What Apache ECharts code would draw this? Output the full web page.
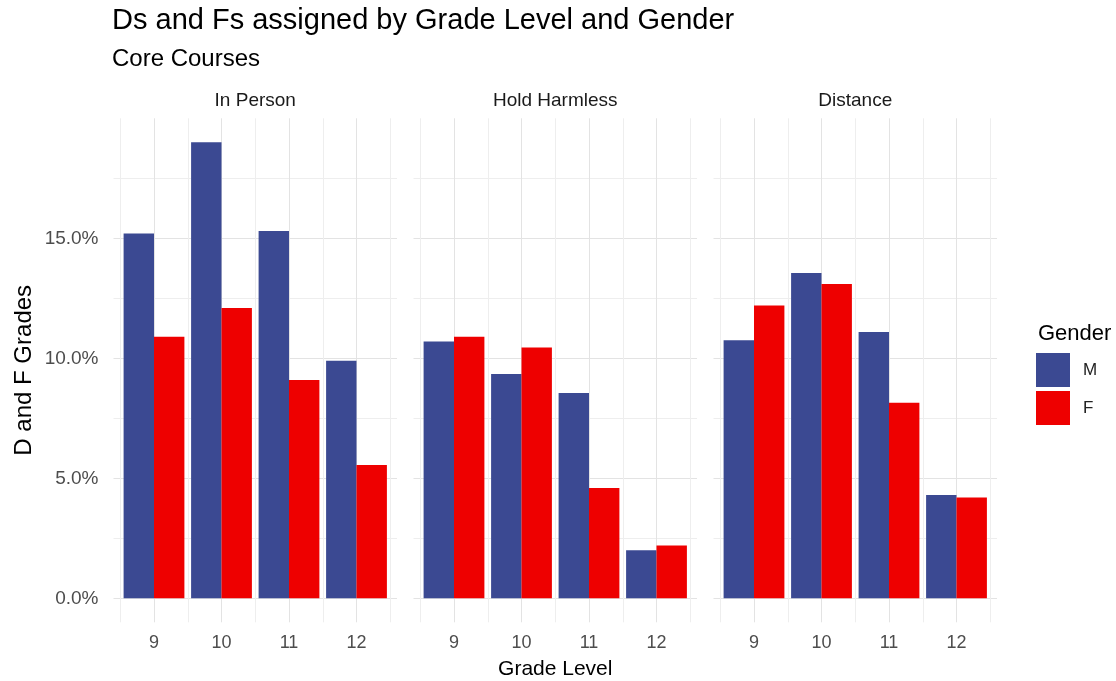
<!DOCTYPE html>
<html>
<head>
<meta charset="utf-8">
<script src="https://cdn.jsdelivr.net/npm/echarts@6/dist/echarts.min.js"></script>
<style>
  html, body { margin: 0; padding: 0; background: #fff; }
  #chart { width: 1116px; height: 681px; }
</style>
</head>
<body>
<div id="chart"></div>
<script>
// values in percent
const grades = ['9', '10', '11', '12'];
const panels = ['In Person', 'Hold Harmless', 'Distance'];
const inPersonM = [15.2, 19.0, 15.3, 9.9];
const inPersonF = [10.9, 12.1, 9.1, 5.55];
const holdM = [10.7, 9.35, 8.55, 2.0];
const holdF = [10.9, 10.45, 4.6, 2.2];
const distM = [10.75, 13.55, 11.1, 4.3];
const distF = [12.2, 13.1, 8.15, 4.2];
const yTicks = [0, 5, 10, 15];

const maleColor = '#3B4992';
const femaleColor = '#EE0000';
const majorGrid = '#e3e3e3';
const minorGrid = '#eeeeee';
const font = 'Liberation Sans, Arial, sans-serif';

const seriesM = [inPersonM, holdM, distM];
const seriesF = [inPersonF, holdF, distF];

// y axis: -1 .. 20 by 0.5, only some ticks get a line
const yColors = [];
for (let i = 0; i <= 42; i++) {
  const v = -1 + 0.5 * i;
  if (yTicks.indexOf(v) >= 0) yColors.push(majorGrid);
  else if (v > 0 && v < 19.9 && v % 2.5 === 0) yColors.push(minorGrid);
  else yColors.push('rgba(0,0,0,0)');
}
// x axis: 4 .. 46 by 1, grades sit at 10, 20, 30, 40
const xColors = [];
for (let i = 0; i <= 42; i++) {
  const v = 4 + i;
  if (v % 10 === 0) xColors.push(majorGrid);
  else if (v % 10 === 5) xColors.push(minorGrid);
  else xColors.push('rgba(0,0,0,0)');
}

const panelLeft = [113.5, 413.5, 713.5];
const grid = [], xAxis = [], yAxis = [], series = [];

panels.forEach(function (name, p) {
  grid.push({ left: panelLeft[p], top: 118.3, width: 283.5, height: 504, outerBoundsMode: 'none' });
  xAxis.push({
    type: 'value', gridIndex: p, min: 4, max: 46, interval: 1,
    axisLine: { show: false }, axisTick: { show: false },
    axisLabel: {
      margin: 12, color: '#4d4d4d', fontSize: 18, fontFamily: font,
      formatter: function (v) {
        return (v % 10 === 0 && v >= 10 && v <= 40) ? grades[v / 10 - 1] : '';
      }
    },
    splitLine: { show: true, lineStyle: { color: xColors, width: 1 } },
    name: p === 1 ? 'Grade Level' : '',
    nameLocation: 'middle', nameGap: 36,
    nameTextStyle: { color: '#000', fontSize: 21, fontFamily: font }
  });
  // top axis carries the facet strip label
  xAxis.push({
    type: 'value', gridIndex: p, position: 'top', min: 4, max: 46,
    axisLine: { show: false }, axisTick: { show: false },
    axisLabel: { show: false }, splitLine: { show: false },
    name: name, nameLocation: 'middle', nameGap: 8,
    nameTextStyle: { color: '#1a1a1a', fontSize: 19, fontFamily: font }
  });
  yAxis.push({
    type: 'value', gridIndex: p, min: -1, max: 20, interval: 0.5,
    axisLine: { show: false }, axisTick: { show: false },
    axisLabel: {
      show: p === 0, margin: 15, color: '#4d4d4d', fontSize: 19, fontFamily: font,
      formatter: function (v) {
        return yTicks.indexOf(v) >= 0 ? v.toFixed(1) + '%' : '';
      }
    },
    splitLine: { show: true, lineStyle: { color: yColors, width: 1 } },
    name: p === 0 ? 'D and F Grades' : '',
    nameLocation: 'middle', nameGap: 77, nameRotate: 90,
    nameTextStyle: { color: '#000', fontSize: 24, fontFamily: font }
  });
  series.push({
    name: 'M', type: 'bar', xAxisIndex: p * 2, yAxisIndex: p,
    barWidth: 30.4, barGap: '0%',
    itemStyle: { color: maleColor },
    data: seriesM[p].map(function (v, i) { return [(i + 1) * 10, v]; })
  });
  series.push({
    name: 'F', type: 'bar', xAxisIndex: p * 2, yAxisIndex: p,
    barWidth: 30.4, barGap: '0%',
    itemStyle: { color: femaleColor },
    data: seriesF[p].map(function (v, i) { return [(i + 1) * 10, v]; })
  });
});

const chart = echarts.init(document.getElementById('chart'));
chart.setOption({
  animation: false,
  backgroundColor: '#fff',
  title: [
    { text: 'Ds and Fs assigned by Grade Level and Gender', left: 107, top: 1,
      textStyle: { color: '#000', fontSize: 29, fontWeight: 'normal', fontFamily: font } },
    { text: 'Core Courses', left: 107, top: 42,
      textStyle: { color: '#000', fontSize: 24, fontWeight: 'normal', fontFamily: font } },
    { text: 'Gender', left: 1033, top: 318,
      textStyle: { color: '#000', fontSize: 22, fontWeight: 'normal', fontFamily: font } }
  ],
  legend: {
    data: ['M', 'F'], orient: 'vertical', left: 1031, top: 348,
    itemWidth: 34, itemHeight: 34, itemGap: 4, icon: 'rect',
    textStyle: { color: '#222', fontSize: 17, fontFamily: font, padding: [0, 0, 0, 8] }
  },
  grid: grid,
  xAxis: xAxis,
  yAxis: yAxis,
  series: series
});
</script>
</body>
</html>
